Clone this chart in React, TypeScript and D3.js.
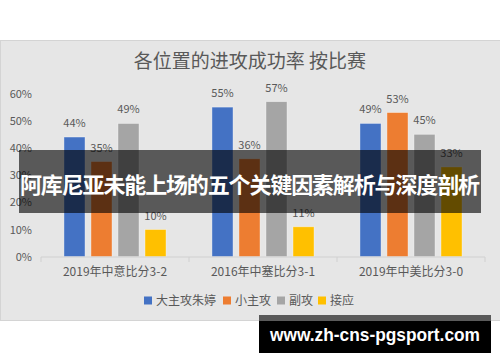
import { useRef, useEffect } from 'react';
import * as d3 from 'd3';

const title = '各位置的进攻成功率 按比赛';
const categories = ['2019年中意比分3-2', '2016年中塞比分3-1', '2019年中美比分3-0'];
const seriesNames = ['大主攻朱婷', '小主攻', '副攻', '接应'];
const seriesColors = ['#4472c4', '#ed7d31', '#a5a5a5', '#ffc000'];
const values = [
  [0.44, 0.35, 0.49, 0.10],
  [0.55, 0.36, 0.57, 0.11],
  [0.49, 0.53, 0.45, 0.33],
];
const yTicks = [0, 0.1, 0.2, 0.3, 0.4, 0.5, 0.6];
const banner = '阿库尼亚未能上场的五个关键因素解析与深度剖析';
const watermark = 'www.zh-cns-pgsport.com';

const App = () => {
  const ref = useRef<SVGSVGElement>(null);

  useEffect(() => {
    document.body.style.margin = '0';
    const svg = d3.select(ref.current);
    svg.selectAll('*').remove();
    const font = '"Noto Sans CJK SC", "Noto Sans", sans-serif';
    const textColor = '#595959';

    // chart panel
    svg.append('rect')
      .attr('x', 0.5).attr('y', 40.5)
      .attr('width', 500).attr('height', 280)
      .attr('fill', '#e6e6e6')
      .attr('stroke', '#d4d4d4');

    svg.append('text')
      .attr('x', 250).attr('y', 68)
      .attr('text-anchor', 'middle')
      .attr('font-family', font)
      .attr('font-size', 19)
      .attr('fill', textColor)
      .text(title);

    const x0 = d3.scaleBand().domain(categories).range([41, 485]);
    const x1 = d3.scaleBand().domain(seriesNames)
      .range([0, x0.bandwidth()])
      .paddingInner(0.22)
      .paddingOuter(0.85);
    const y = d3.scaleLinear().domain([0, 0.6]).range([256.7, 93.5]);
    const fmt = d3.format('.0%');

    // y labels
    svg.append('g').selectAll('text')
      .data(yTicks)
      .enter().append('text')
      .attr('x', 32)
      .attr('y', d => y(d) + 4)
      .attr('text-anchor', 'end')
      .attr('font-family', font)
      .attr('font-size', 11)
      .attr('fill', textColor)
      .text(d => fmt(d));

    // bars
    const groups = svg.append('g').selectAll('g')
      .data(categories)
      .enter().append('g')
      .attr('transform', d => `translate(${x0(d)},0)`);

    groups.each(function (cat, ci) {
      const g = d3.select(this);
      const rows = seriesNames.map((s, si) => ({ s, si, v: values[ci][si] }));
      g.selectAll('rect')
        .data(rows)
        .enter().append('rect')
        .attr('x', d => x1(d.s))
        .attr('y', d => y(d.v))
        .attr('width', x1.bandwidth())
        .attr('height', d => y(0) - y(d.v))
        .attr('fill', d => seriesColors[d.si])
        .attr('stroke', '#ffffff')
        .attr('stroke-opacity', 0.5)
        .attr('stroke-width', 0.75);
      g.selectAll('text')
        .data(rows)
        .enter().append('text')
        .attr('x', d => x1(d.s) + x1.bandwidth() / 2)
        .attr('y', d => y(d.v) - 10)
        .attr('text-anchor', 'middle')
        .attr('font-family', font)
        .attr('font-size', 11)
        .attr('fill', textColor)
        .text(d => fmt(d.v));
    });

    // x axis
    const axis = svg.append('g');
    axis.append('line')
      .attr('x1', 41).attr('x2', 485)
      .attr('y1', 257).attr('y2', 257)
      .attr('stroke', '#d0d0d0');
    const edges = categories.map(c => x0(c)).concat([485]);
    axis.selectAll('.tick')
      .data(edges)
      .enter().append('line')
      .attr('x1', d => d).attr('x2', d => d)
      .attr('y1', 257).attr('y2', 262)
      .attr('stroke', '#d0d0d0');
    axis.selectAll('text')
      .data(categories)
      .enter().append('text')
      .attr('x', d => x0(d) + x0.bandwidth() / 2)
      .attr('y', 276)
      .attr('text-anchor', 'middle')
      .attr('font-family', font)
      .attr('font-size', 12)
      .attr('fill', textColor)
      .text(d => d);

    // legend
    const legendX = [144, 223, 277, 318];
    const legend = svg.append('g').selectAll('g')
      .data(seriesNames)
      .enter().append('g')
      .attr('transform', (d, i) => `translate(${legendX[i]},296.5)`);
    legend.append('rect')
      .attr('width', 8).attr('height', 8)
      .attr('fill', (d, i) => seriesColors[i]);
    legend.append('text')
      .attr('x', 12).attr('y', 8.5)
      .attr('font-family', font)
      .attr('font-size', 12)
      .attr('fill', textColor)
      .text(d => d);

    // banner overlay
    svg.append('rect')
      .attr('x', 19).attr('y', 150)
      .attr('width', 462).attr('height', 63)
      .attr('fill', 'rgba(0,0,0,0.61)');
    svg.append('text')
      .attr('x', 250).attr('y', 193)
      .attr('text-anchor', 'middle')
      .attr('font-family', font)
      .attr('font-weight', 'bold')
      .attr('font-size', 22)
      .attr('textLength', 460)
      .attr('fill', '#ffffff')
      .text(banner);

    // watermark
    svg.append('rect')
      .attr('x', 259).attr('y', 315)
      .attr('width', 232).attr('height', 6)
      .attr('fill', '#5a5a5a');
    svg.append('rect')
      .attr('x', 259).attr('y', 321)
      .attr('width', 232).attr('height', 32)
      .attr('fill', '#000000');
    svg.append('text')
      .attr('x', 375).attr('y', 341)
      .attr('text-anchor', 'middle')
      .attr('font-family', '"Liberation Sans", Arial, sans-serif')
      .attr('font-weight', 'bold')
      .attr('font-size', 18)
      .attr('textLength', 210)
      .attr('lengthAdjust', 'spacingAndGlyphs')
      .attr('fill', '#ffffff')
      .text(watermark);
  }, []);

  return <svg ref={ref} width={500} height={362} style={{ display: 'block' }}></svg>;
};

export default App;
